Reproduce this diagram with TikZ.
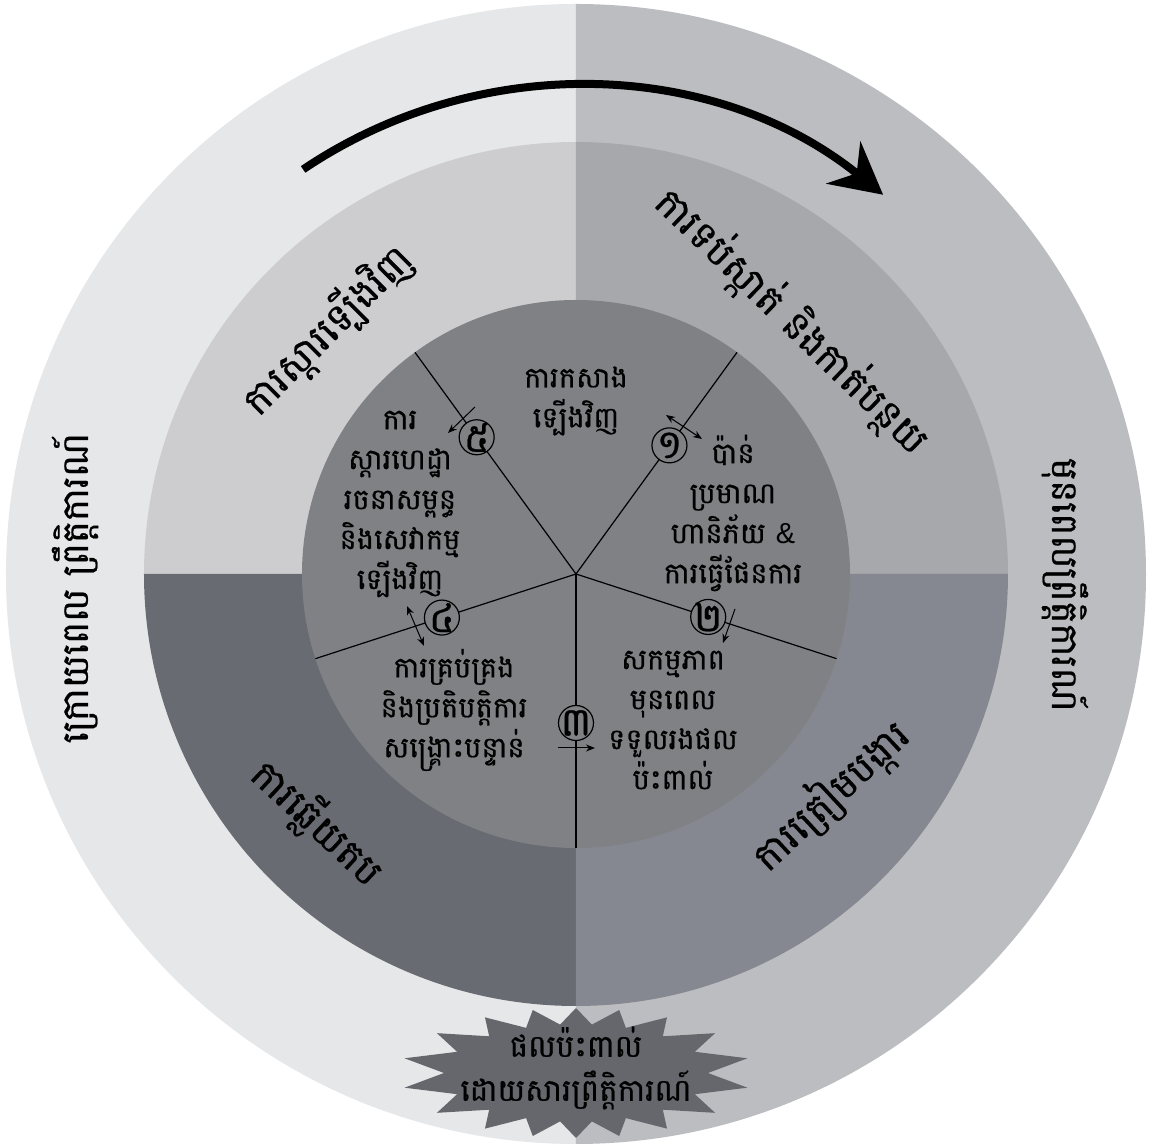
\documentclass[tikz,border=0pt]{standalone}
\usepackage{fontspec}
\newfontfamily\kh[Script=Khmer,FakeBold=0.6]{Battambang}
\newfontfamily\lat{Liberation Sans}
\usetikzlibrary{arrows.meta}
\definecolor{outL}{HTML}{E6E7E8}
\definecolor{outR}{HTML}{BCBDC0}
\definecolor{midTL}{HTML}{CDCDD0}
\definecolor{midTR}{HTML}{A7A8AC}
\definecolor{midBL}{HTML}{686B72}
\definecolor{midBR}{HTML}{858890}
\definecolor{innerc}{HTML}{808185}
\definecolor{starc}{HTML}{65676D}
\begin{document}
\begin{tikzpicture}[x=1pt,y=1pt,
  inner text/.style={font=\kh\fontsize{29}{40}\selectfont, align=center, inner sep=0pt},
  ring text/.style={font=\kh\fontsize{39}{44}\selectfont, inner sep=0pt},
  outer text/.style={font=\kh\fontsize{37}{44}\selectfont, inner sep=0pt},
  numc/.style={circle, draw, line width=1.2pt, fill=innerc, minimum size=35pt, inner sep=0pt},
  numt/.style={font=\kh\fontsize{40}{40}\selectfont, inner sep=0pt},
  divider/.style={line width=1.2pt},
  tip/.tip={Stealth[length=9pt,width=7pt]},
  small arrow/.style={line width=1pt, -tip},
  small darrow/.style={line width=1pt, tip-tip},
]
\useasboundingbox (-576,-573) rectangle (576,574);
\fill[white] (-576,-573) rectangle (576,574);
% outer ring
\fill[outL] (0,0) -- (90:570) arc[start angle=90,end angle=270,radius=570pt] -- cycle;
\fill[outR] (0,0) -- (-90:570) arc[start angle=-90,end angle=90,radius=570pt] -- cycle;
% middle ring
\fill[midTL] (0,0) -- (90:432) arc[start angle=90,end angle=180,radius=432pt] -- cycle;
\fill[midTR] (0,0) -- (0:432) arc[start angle=0,end angle=90,radius=432pt] -- cycle;
\fill[midBL] (0,0) -- (180:432) arc[start angle=180,end angle=270,radius=432pt] -- cycle;
\fill[midBR] (0,0) -- (270:432) arc[start angle=270,end angle=360,radius=432pt] -- cycle;
% inner disc
\fill[innerc] (0,0) circle[radius=274pt];
% cycle arrow
\coordinate (arrS) at (124:488);
\draw[line width=8pt, -{Stealth[length=51pt,width=54pt,inset=17pt]}] (arrS) arc[start angle=124,end angle=51,radius=488pt];
% dividers
\coordinate (O) at (0,0);
\coordinate (e1) at (54:274);
\coordinate (e2) at (-18:274);
\coordinate (e3) at (-90:274);
\coordinate (e4) at (198:274);
\coordinate (e5) at (126:274);
\foreach \e in {e1,e2,e3,e4,e5} \draw[divider] (O) -- (\e);
% number circles
\node[numc] (n1) at (54:159) {};
\node[numc] (n2) at (-18:139) {};
\node[numc] (n3) at (-90:149) {};
\node[numc] (n4) at (198:141) {};
\node[numc] (n5) at (126:169) {};
\node[numt] (d1) at (n1.center) {១};
\node[numt] (d2) at (n2.center) {២};
\node[numt] (d3) at (n3.center) {៣};
\node[numt] (d4) at (n4.center) {៤};
\node[numt] (d5) at (n5.center) {៥};
% small arrows
\coordinate (a5s) at (-101,167); \coordinate (a5e) at (-128,141);
\coordinate (a1s) at (90,159);   \coordinate (a1e) at (126,135);
\coordinate (a2s) at (159,-35);  \coordinate (a2e) at (147,-69);
\coordinate (a3s) at (-18,-174); \coordinate (a3e) at (19,-174);
\coordinate (a4s) at (-169,-32); \coordinate (a4e) at (-152,-72);
\draw[small arrow] (a5s) -- (a5e);
\draw[small darrow] (a1s) -- (a1e);
\draw[small arrow] (a2s) -- (a2e);
\draw[small arrow] (a3s) -- (a3e);
\draw[small darrow] (a4s) -- (a4e);
% inner texts
\node[inner text] (t0) at (0,173) {ការកសាង\\ទ្បើងវិញ};
\node[inner text] (t5) at (-176,70) {ការ\\ស្តារហេដ្ឋា\\រចនាសម្ពន្ធ\\និងសេវាកម្ម\\ទ្បើងវិញ};
\node[inner text] (t1) at (157,61) {ប៉ាន់\\ប្រមាណ\\ហានិភ័យ {\lat\&}\\ការធ្វើផែនការ};
\node[inner text] (t2) at (97,-146) {សកម្មភាព\\មុនពេល\\ទទួលរងផល\\ប៉ះពាល់};
\node[inner text] (t3) at (-122,-136) {ការគ្រប់គ្រង\\និងប្រតិបត្តិការ\\សង្គ្រោះបន្ទាន់};
% ring texts
\node[ring text, rotate=45] (r5) at (-249,244) {ការស្តារទ្បើងវិញ};
\node[ring text, rotate=-44] (r1) at (216,253) {ការទប់ស្កាត់ និងកាត់បន្ថយ};
\node[ring text, rotate=-43] (r3) at (-259,-249) {ការឆ្លើយតប};
\node[ring text, rotate=43] (r2) at (254,-221) {ការត្រៀមបង្ការ};
\node[outer text, rotate=90] (ol) at (-501,-14) {ក្រោយពេល ព្រឹត្តិការណ៍};
\node[outer text, rotate=-90] (or) at (489,-11) {មុនពេលព្រឹត្តិការណ៍};
% starburst
\fill[starc] plot[samples at={0,...,35}] ({176*(1-0.25*mod(\x,2))*cos(90+10*\x-9*sin(20*\x))}, {-499+65*(1-0.25*mod(\x,2))*sin(90+10*\x-9*sin(20*\x))}) -- cycle;
\node[font=\kh\fontsize{31}{44}\selectfont, align=center, inner sep=0pt] (st) at (0,-494) {ផលប៉ះពាល់\\ដោយសារព្រឹត្តិការណ៍};
\end{tikzpicture}
\end{document}
